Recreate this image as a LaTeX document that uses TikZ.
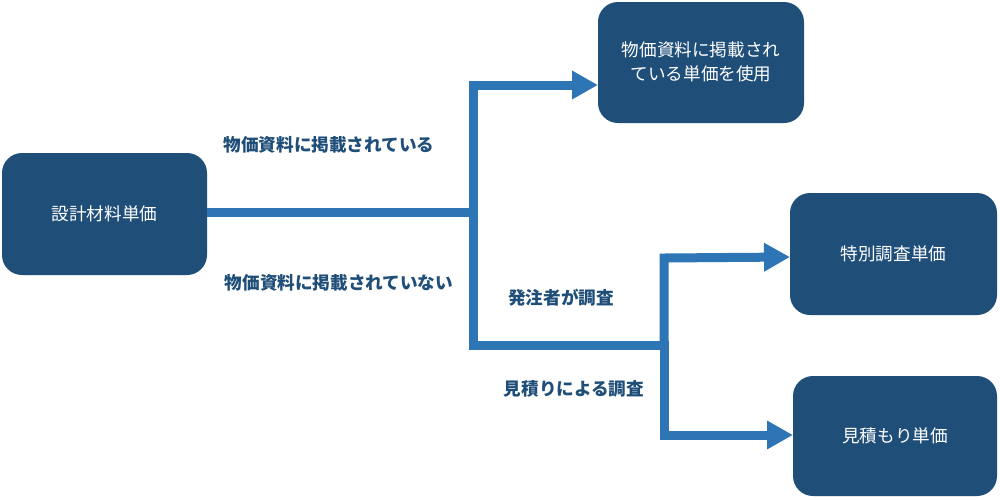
\documentclass[tikz,border=0pt]{standalone}
\usepackage{fontspec}
\setmainfont{Noto Sans CJK JP}
\usetikzlibrary{arrows.meta}
\definecolor{boxc}{RGB}{31,78,121}
\definecolor{linec}{RGB}{46,117,182}
\begin{document}
\begin{tikzpicture}[x=1pt,y=-1pt,
  box/.style={draw=none,fill=boxc,rounded corners=20pt,text=white,font=\fontsize{17.6}{24}\selectfont,align=center,inner sep=0pt},
  conn/.style={draw=linec,line width=9pt,line cap=rect,line join=miter},
  arr/.style={conn,-{Triangle[length=26pt,width=27pt]}},
  lab/.style={text=boxc,font=\fontsize{17.6}{20}\selectfont\bfseries,inner sep=0pt}]
\useasboundingbox (0,0) rectangle (1000,499);
\fill[white] (0,0) rectangle (1000,499);
\path[box] (2,153) rectangle (207,275);
\node[box] (A) at (104.5,214) {設計材料単価};
\path[box] (598,2) rectangle (804,123);
\node[box] (B) at (701,62) {物価資料に掲載され\\ている単価を使用};
\path[box] (790,193) rectangle (997,315);
\node[box] (C) at (893.5,254) {特別調査単価};
\path[box] (793,376) rectangle (997,496);
\node[box] (D) at (895,436) {見積もり単価};
\coordinate (Ae) at (211.5,212);
\coordinate (j1) at (473,212);
\coordinate (j1t) at (473,85);
\coordinate (j1b) at (473,345);
\coordinate (Bw) at (598,85);
\coordinate (j2) at (664,345);
\coordinate (j2t) at (664,258);
\coordinate (j2b) at (664,435);
\coordinate (Cw) at (790,257);
\coordinate (Dw) at (793,435);
\draw[conn] (Ae) -- (j1);
\draw[conn] (j1b) -- (j2);
\draw[arr] (j1b) -- (j1t) -- (Bw);
\draw[arr] (j2) -- (j2t) -- (Cw);
\draw[arr] (j2) -- (j2b) -- (Dw);
\node[lab] (L1) at (329,145) {物価資料に掲載されている};
\node[lab] (L2) at (339,283) {物価資料に掲載されていない};
\node[lab] (L3) at (561,298) {発注者が調査};
\node[lab] (L4) at (574,389) {見積りによる調査};
\end{tikzpicture}
\end{document}
